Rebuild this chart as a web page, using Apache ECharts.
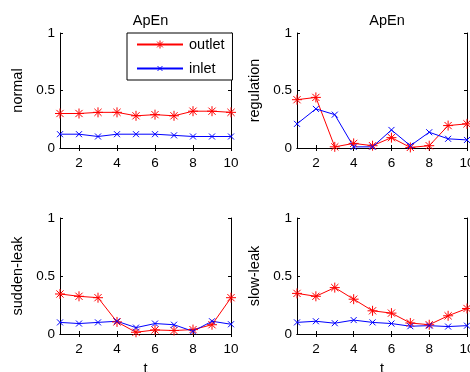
<!DOCTYPE html>
<html><head><meta charset="utf-8">
<script src="https://cdn.jsdelivr.net/npm/echarts@6/dist/echarts.min.js"></script>
<style>html,body{margin:0;padding:0;background:#fff}#c{width:470px;height:372px}</style>
</head><body><div id="c"></div>
<script>
var tVals = [1,2,3,4,5,6,7,8,9,10];
var xTicks = [2,4,6,8,10];
var yTicks = [0,0.5,1];
var panelNames = ['normal','regulation','sudden-leak','slow-leak'];
var normalOutlet = [0.30,0.30,0.31,0.31,0.28,0.29,0.28,0.32,0.32,0.31];
var normalInlet  = [0.12,0.12,0.10,0.12,0.12,0.12,0.11,0.10,0.10,0.10];
var regOutlet    = [0.42,0.44,0.01,0.04,0.02,0.09,0.005,0.02,0.195,0.21];
var regInlet     = [0.21,0.34,0.29,0.01,0.01,0.157,0.02,0.137,0.08,0.07];
var suddenOutlet = [0.345,0.325,0.313,0.104,0.015,0.035,0.03,0.038,0.08,0.313];
var suddenInlet  = [0.10,0.09,0.10,0.11,0.055,0.09,0.08,0.023,0.11,0.084];
var slowOutlet   = [0.35,0.325,0.40,0.30,0.20,0.18,0.095,0.08,0.157,0.22];
var slowInlet    = [0.10,0.11,0.093,0.12,0.10,0.09,0.067,0.072,0.064,0.072];

var outletSets = [normalOutlet, regOutlet, suddenOutlet, slowOutlet];
var inletSets = [normalInlet, regInlet, suddenInlet, slowInlet];

var FONT = "'Liberation Sans', Arial, sans-serif";
var FS = 14.5;
var TFS = 13.5;
var star = 'path://M0,-5L0,5M-5,0L5,0M-3.6,-3.6L3.6,3.6M-3.6,3.6L3.6,-3.6';
var cross = 'path://M-5,-5M5,5M-3,-3L3,3M-3,3L3,-3';

var grids = [
  {left:60, top:33, width:171, height:115},
  {left:297, top:33, width:170, height:115},
  {left:60, top:218, width:171, height:116},
  {left:297, top:218, width:170, height:116}
].map(function(g){ g.containLabel = false; g.outerBoundsMode = 'none'; return g; });

function zip(ys){ return tVals.map(function(t,i){ return [t, ys[i]]; }); }

var xAxes = [], yAxes = [], series = [];
grids.forEach(function(g, i){
  var bottomRow = i >= 2;
  xAxes.push({
    type:'value', gridIndex:i, position:'bottom', min:1, max:10,
    name: bottomRow ? 't' : '', nameLocation:'middle', nameGap:27,
    nameTextStyle:{color:'#000', fontFamily:FONT, fontSize:FS},
    axisLine:{show:true, lineStyle:{color:'#000', width:1}},
    axisTick:{show:true, inside:true, length:3, customValues:xTicks, lineStyle:{color:'#000'}},
    axisLabel:{show:true, customValues:xTicks, margin:8, color:'#000', fontFamily:FONT, fontSize:TFS},
    splitLine:{show:false}
  });
  xAxes.push({
    type:'value', gridIndex:i, position:'top', min:1, max:10,
    axisLine:{show:true, lineStyle:{color:'#000', width:1}},
    axisTick:{show:true, inside:true, length:3, customValues:xTicks, lineStyle:{color:'#000'}},
    axisLabel:{show:false}, splitLine:{show:false}
  });
  yAxes.push({
    type:'value', gridIndex:i, position:'left', min:0, max:1, interval:0.5,
    name: panelNames[i], nameLocation:'middle', nameGap:35,
    nameTextStyle:{color:'#000', fontFamily:FONT, fontSize:FS},
    axisLine:{show:true, lineStyle:{color:'#000', width:1}},
    axisTick:{show:true, inside:true, length:3, lineStyle:{color:'#000'}},
    axisLabel:{show:true, margin:5, color:'#000', fontFamily:FONT, fontSize:TFS},
    splitLine:{show:false}
  });
  yAxes.push({
    type:'value', gridIndex:i, position:'right', min:0, max:1, interval:0.5,
    axisLine:{show:true, lineStyle:{color:'#000', width:1}},
    axisTick:{show:true, inside:true, length:3, lineStyle:{color:'#000'}},
    axisLabel:{show:false}, splitLine:{show:false}
  });
  series.push({
    name:'outlet', type:'line', xAxisIndex:2*i, yAxisIndex:2*i, data:zip(outletSets[i]),
    symbol:star, symbolSize:10, showAllSymbol:true, clip:false, animation:false,
    lineStyle:{color:'#ff0000', width:1},
    itemStyle:{color:'#ff0000', borderColor:'#ff0000', borderWidth:1}
  });
  series.push({
    name:'inlet', type:'line', xAxisIndex:2*i, yAxisIndex:2*i, data:zip(inletSets[i]),
    symbol:cross, symbolSize:10, showAllSymbol:true, clip:false, animation:false,
    lineStyle:{color:'#0000ff', width:1},
    itemStyle:{color:'#0000ff', borderColor:'#0000ff', borderWidth:1}
  });
});

var option = {
  animation:false,
  backgroundColor:'#fff',
  title:[
    {text:'ApEn', left:145.5, top:8, textAlign:'center', textStyle:{color:'#000', fontFamily:FONT, fontSize:FS, fontWeight:'normal'}},
    {text:'ApEn', left:382, top:8, textAlign:'center', textStyle:{color:'#000', fontFamily:FONT, fontSize:FS, fontWeight:'normal'}}
  ],
  legend:{
    data:['outlet','inlet'], orient:'vertical', left:127, top:33,
    backgroundColor:'#fff', borderColor:'#000', borderWidth:1, borderRadius:0,
    padding:[4,8,4,9], itemWidth:46, itemHeight:10, itemGap:9,
    itemStyle:{borderWidth:1},
    textStyle:{color:'#000', fontFamily:FONT, fontSize:FS, padding:[0,0,0,1]},
    selectedMode:false
  },
  grid:grids,
  xAxis:xAxes,
  yAxis:yAxes,
  series:series
};
var chart = echarts.init(document.getElementById('c'), null, {renderer:'canvas'});
chart.setOption(option);
</script></body></html>
